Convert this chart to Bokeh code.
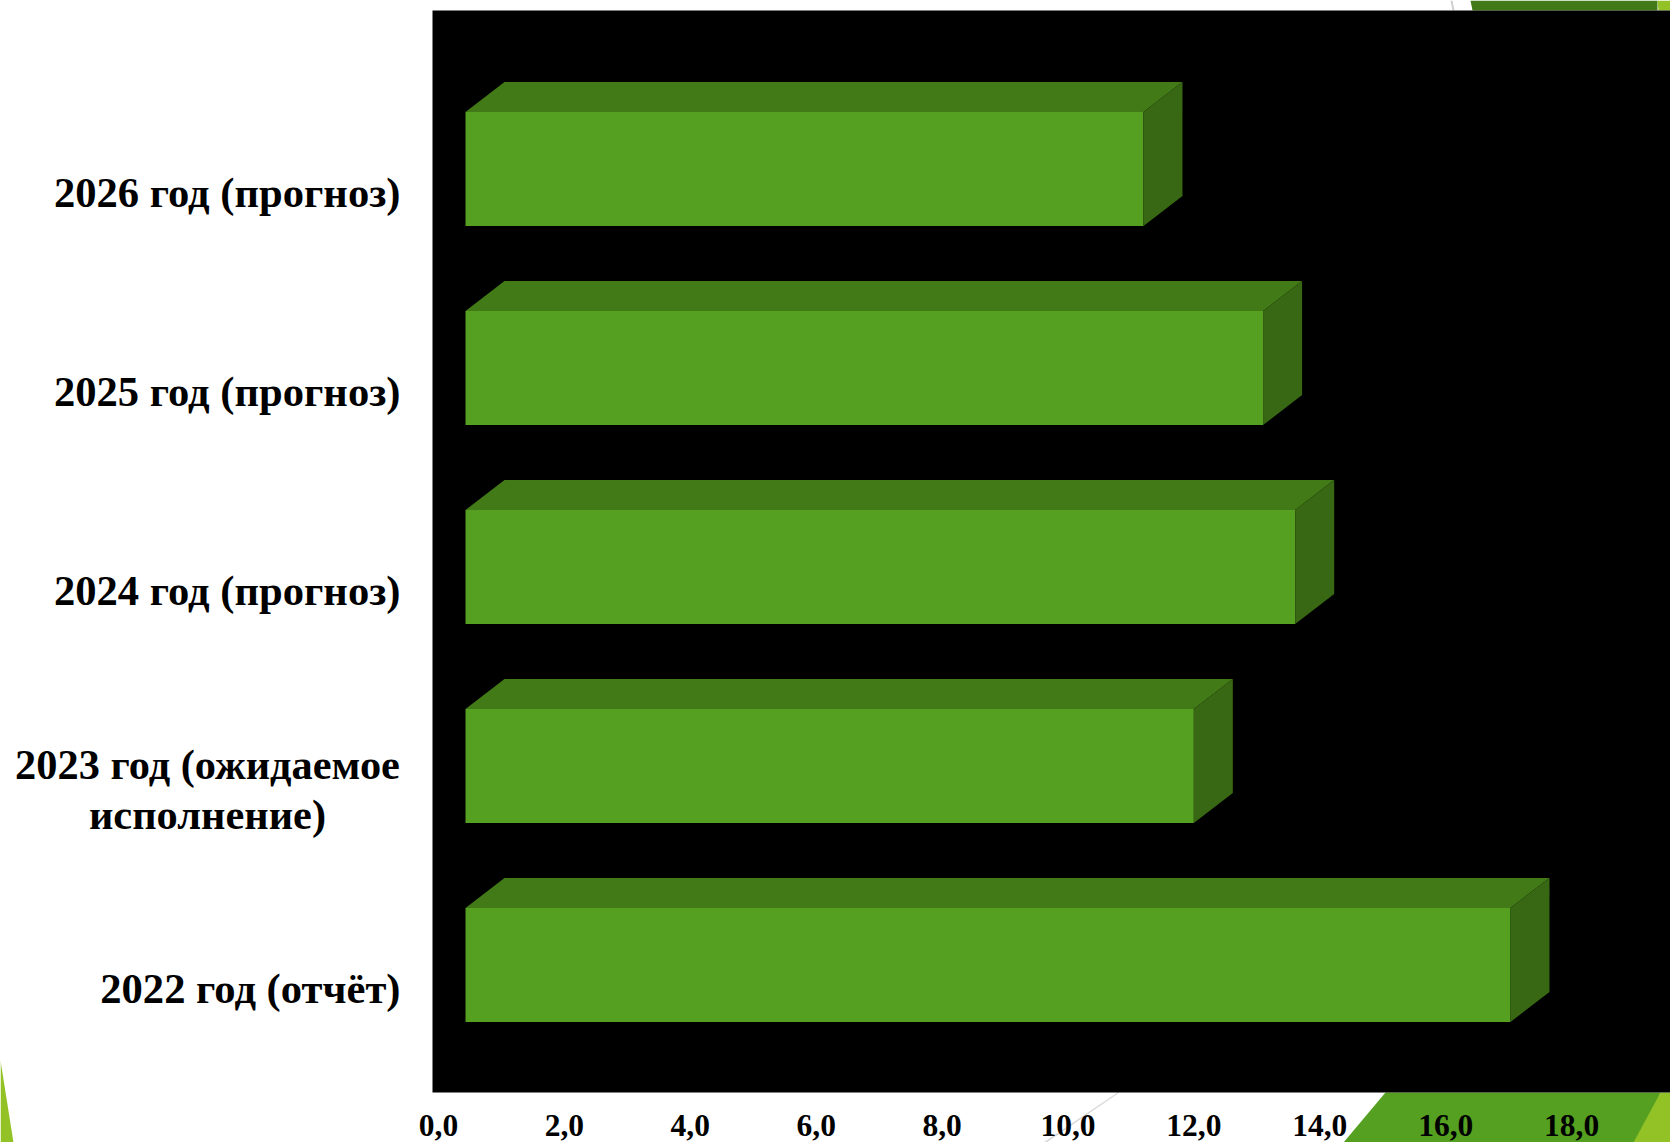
from bokeh.embed import file_html
from bokeh.resources import INLINE
from bokeh.plotting import figure
from bokeh.layouts import column
from bokeh.core.properties import value
from bokeh.models import Range1d, LinearAxis, FixedTicker

categories = ["2022 год (отчёт)", "2023 год (ожидаемое\nисполнение)", "2024 год (прогноз)",
              "2025 год (прогноз)", "2026 год (прогноз)"]
values = [16.6, 11.57, 13.18, 12.67, 10.77]
x_ticks = [0, 2, 4, 6, 8, 10, 12, 14, 16, 18]
x_tick_labels = ["0,0", "2,0", "4,0", "6,0", "8,0", "10,0", "12,0", "14,0", "16,0", "18,0"]

FRONT = "#55a021"
TOP = "#437a18"
SIDE = "#386813"
LIGHT = "#93c227"
SERIF = "Liberation Serif"

W, H = 1670, 1142
L, T, B = 432, 10, 50
PX_X, PX_Y = 62.95, 199.0
LABEL_Y0 = 988  # pixel row of the first category label
frame_w, frame_h = W - L, H - T - B
idx = list(range(len(categories)))
TWO_LINE = 1  # this label is centred on itself in the reference, so it is placed separately

# ---- backdrop: slide decoration behind the chart, its frame fills the whole page
back = figure(width=W, height=H, output_backend="svg", toolbar_location=None,
              x_range=Range1d(0, W), y_range=Range1d(H, 0),
              min_border=0, x_axis_location=None, y_axis_location=None,
              background_fill_color="#ffffff", border_fill_color="#ffffff",
              outline_line_color=None)
back.frame_align = False
back.grid.visible = False
back.extra_y_ranges = {"cat": Range1d((LABEL_Y0 - H) / PX_Y, LABEL_Y0 / PX_Y)}


def deco(pts, color):
    back.patch(x=[a for a, _ in pts], y=[b for _, b in pts], fill_color=color, line_color=None)


deco([(1385, 1092), (1343, 1142), (1640, 1142), (1660, 1092)], FRONT)
deco([(1660, 1092), (1633, 1142), (1670, 1142), (1670, 1092)], LIGHT)
deco([(1470, 0), (1472, 10), (1657, 10), (1657, 0)], TOP)
deco([(1657, 0), (1658, 10), (1670, 10), (1670, 0)], LIGHT)
deco([(0, 1060), (13, 1142), (0, 1142)], LIGHT)
deco([(1450, 0), (1452, 0), (1454, 10), (1452, 10)], "#d0d0d0")
deco([(1117, 1092), (1119, 1092), (1046, 1142), (1043, 1142)], "#d8d8d8")

back.text(x=[207], y=[TWO_LINE], text=[categories[TWO_LINE]], y_range_name="cat",
          text_align="center", text_baseline="middle", text_font=value(SERIF),
          text_font_style="bold", text_font_size="42.4px", text_line_height=1.05,
          text_color="#000000")

# ---- the chart itself, transparent outside its black frame, laid over the backdrop
p = figure(width=W, height=H, output_backend="svg", toolbar_location=None,
           x_range=Range1d(-33 / PX_X, (frame_w - 33) / PX_X),
           y_range=Range1d(-142.5 / PX_Y, (frame_h - 142.5) / PX_Y),
           min_border_left=L, min_border_top=T, min_border_bottom=B, min_border_right=0,
           x_axis_location=None, y_axis_location=None,
           background_fill_color="#000000", border_fill_color=None, outline_line_color=None)
p.frame_align = False
p.margin = (-H, 0, 0, 0)
p.grid.visible = False

# offset ranges: in this pseudo-3D chart the labels sit on the front floor, off the bars' base
p.extra_x_ranges = {"ax": Range1d(-6 / PX_X, (frame_w - 6) / PX_X)}
p.extra_y_ranges = {"ax": Range1d((LABEL_Y0 - 1092) / PX_Y, (LABEL_Y0 - T) / PX_Y)}

xa = LinearAxis(x_range_name="ax", ticker=FixedTicker(ticks=x_ticks),
                major_label_overrides=dict(zip(x_ticks, x_tick_labels)))
xa.axis_line_color = None
xa.major_tick_line_color = None
xa.minor_tick_line_color = None
xa.major_label_standoff = 16
xa.major_label_text_font = SERIF
xa.major_label_text_font_style = "bold"
xa.major_label_text_font_size = "31.5px"
xa.major_label_text_color = "#000000"
p.add_layout(xa, "below")

ya = LinearAxis(y_range_name="ax", ticker=FixedTicker(ticks=idx),
                major_label_overrides={i: ("" if i == TWO_LINE else c)
                                       for i, c in zip(idx, categories)})
ya.axis_line_color = None
ya.major_tick_line_color = None
ya.minor_tick_line_color = None
ya.major_label_standoff = 26
ya.major_label_text_font = SERIF
ya.major_label_text_font_style = "bold"
ya.major_label_text_font_size = "42.6px"
ya.major_label_text_color = "#000000"
p.add_layout(ya, "left")

half = 72 / PX_Y
dy = 30 / PX_Y
dx = 39 / PX_X

# front faces
p.hbar(y=[i - half + (2 * half - dy) / 2 for i in idx], left=0, right=values,
       height=2 * half - dy, fill_color=FRONT, line_color=None)
# top faces
p.patches(xs=[[0, v, v + dx, dx] for v in values],
          ys=[[i + half - dy, i + half - dy, i + half, i + half] for i in idx],
          fill_color=TOP, line_color=None)
# side faces
p.patches(xs=[[v, v + dx, v + dx, v] for v in values],
          ys=[[i - half, i - half + dy, i + half, i + half - dy] for i in idx],
          fill_color=SIDE, line_color=None)

page = column(back, p, spacing=0)
open("out.html", "w").write(file_html(page, INLINE))
